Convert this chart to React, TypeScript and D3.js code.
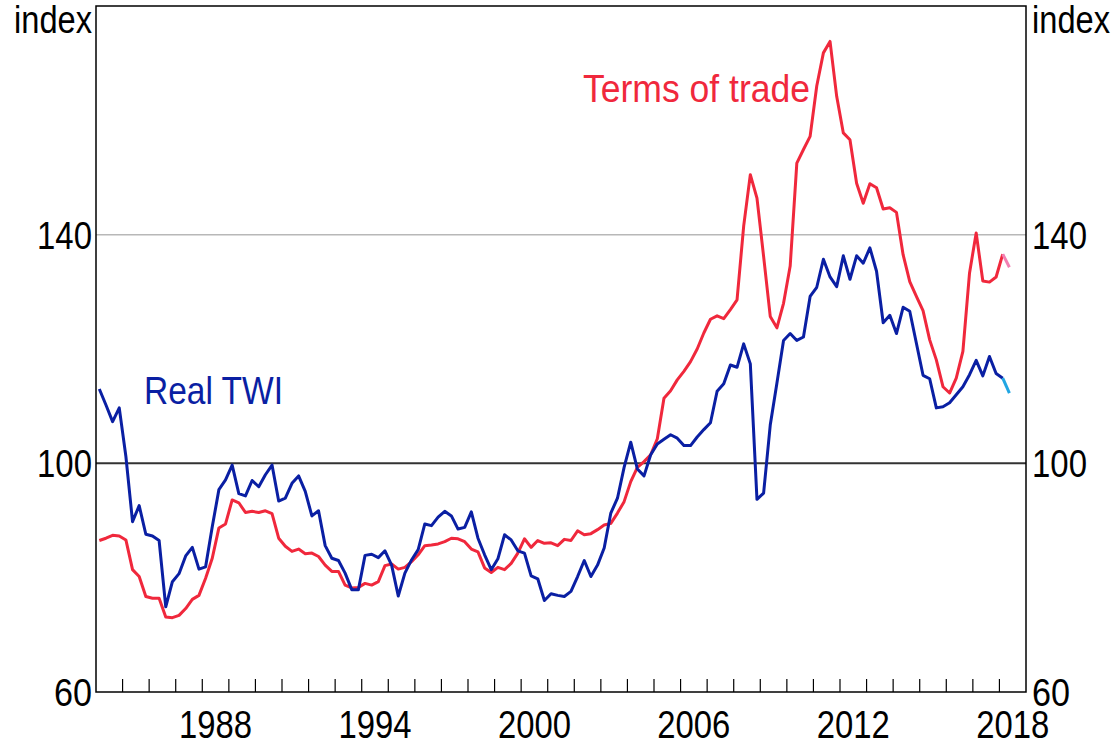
import React from "react";
import * as d3 from "d3";

const START_YEAR = 1984;
const END_YEAR = 2019;

const realTWI = [
  113.0, 110.2, 107.3, 109.7, 101.2, 89.8, 92.6, 87.6, 87.3, 86.5,
  74.9, 79.3, 80.7, 83.8, 85.3, 81.5, 81.9, 88.9, 95.4, 97.1,
  99.7, 94.7, 94.3, 97.0, 95.9, 98.0, 99.7, 93.4, 93.9, 96.5,
  97.8, 95.1, 90.8, 91.7, 85.6, 83.4, 83.0, 80.8, 77.9, 77.9,
  83.9, 84.1, 83.5, 84.7, 82.2, 76.8, 80.8, 83.1, 84.9, 89.4,
  89.1, 90.6, 91.6, 90.8, 88.5, 88.8, 91.5, 86.9, 84.0, 81.4,
  83.3, 87.5, 86.6, 84.7, 84.3, 80.3, 79.8, 76.0, 77.2, 76.9,
  76.7, 77.6, 80.2, 83.0, 80.2, 82.2, 85.2, 91.3, 93.9, 99.3,
  103.7, 99.0, 97.8, 101.5, 103.4, 104.2, 105.0, 104.4, 103.1, 103.1,
  104.6, 105.9, 107.1, 112.6, 113.9, 117.2, 116.8, 120.9, 117.4, 93.7,
  94.8, 106.7, 114.0, 121.5, 122.7, 121.5, 122.1, 129.2, 130.8, 135.7,
  132.6, 130.9, 136.3, 132.2, 136.3, 135.0, 137.7, 133.6, 124.6, 125.9,
  122.7, 127.3, 126.6, 121.0, 115.4, 114.8, 109.7, 109.9, 110.6, 112.0,
  113.4, 115.5, 118.0, 115.3, 118.7, 115.7, 114.9, 112.3,
];

const termsOfTrade = [
  86.5, 86.9, 87.4, 87.3, 86.6, 81.4, 80.2, 76.7, 76.4, 76.4,
  73.1, 73.0, 73.4, 74.6, 76.2, 76.9, 79.9, 83.4, 88.7, 89.4,
  93.6, 93.1, 91.4, 91.6, 91.4, 91.7, 91.2, 86.9, 85.5, 84.6,
  85.0, 84.2, 84.3, 83.7, 82.2, 81.1, 81.1, 78.7, 78.2, 78.3,
  79.0, 78.7, 79.3, 82.1, 82.4, 81.5, 81.8, 82.8, 84.0, 85.6,
  85.7, 85.9, 86.3, 86.9, 86.8, 86.3, 85.0, 84.5, 81.7, 80.9,
  81.8, 81.4, 82.5, 84.3, 86.8, 85.3, 86.5, 86.0, 86.1, 85.6,
  86.7, 86.5, 88.2, 87.5, 87.7, 88.4, 89.2, 89.5, 91.3, 93.3,
  96.8, 99.3, 100.3, 101.5, 104.3, 111.4, 112.7, 114.6, 116.1, 117.8,
  120.0, 122.8, 125.2, 125.8, 125.3, 126.9, 128.6, 141.5, 150.5, 146.4,
  136.2, 125.7, 123.7, 128.0, 134.5, 152.5, 154.9, 157.2, 166.0, 171.8,
  173.8, 164.2, 157.8, 156.6, 149.0, 145.5, 148.9, 148.2, 144.5, 144.7,
  143.9, 136.5, 131.8, 129.2, 126.7, 121.6, 118.1, 113.4, 112.3, 114.9,
  119.6, 133.3, 140.3, 131.9, 131.7, 132.6, 136.6, 134.3,
];

// quarterly observations starting 1984 Q1, plotted at mid-quarter
const quarters = realTWI.map((_, i) => START_YEAR + Math.floor(i / 4) + ((i % 4) + 0.5) / 4);

const yTicks = [60, 100, 140];
const yearLabels = [1988, 1994, 2000, 2006, 2012, 2018];
const yearTicks = d3.range(START_YEAR + 1, END_YEAR);

const W = 1116;
const H = 745;
const L = 96;
const R = 1026;
const T = 6;
const B = 692;
const FONT = "'Liberation Sans', Arial, sans-serif";

const RED = "#f0283c";
const BLUE = "#0a1fa3";
const RED_LAST = "#f27fb2";
const BLUE_LAST = "#21a6e3";

export default function App() {
  const x = d3.scaleLinear().domain([START_YEAR, END_YEAR]).range([L, R]);
  const y = d3.scaleLinear().domain([60, 180]).range([B, T]);
  const line = d3
    .line<number>()
    .x((_, i) => x(quarters[i]))
    .y((d) => y(d));
  const lineOffset = (offset: number) =>
    d3
      .line<number>()
      .x((_, i) => x(quarters[i + offset]))
      .y((d) => y(d));

  const n = realTWI.length;
  const mainTWI = line(realTWI.slice(0, n - 1)) || "";
  const lastTWI = lineOffset(n - 2)(realTWI.slice(n - 2)) || "";
  const mainToT = line(termsOfTrade.slice(0, n - 1)) || "";
  const lastToT = lineOffset(n - 2)(termsOfTrade.slice(n - 2)) || "";

  const labelStyle = { fontFamily: FONT, fontSize: 39, fill: "#000" } as const;

  return (
    <div style={{ position: "fixed", left: 0, top: 0, width: W, height: H, background: "#fff" }}>
      <svg width={W} height={H} style={{ display: "block" }}>
        <rect x={0} y={0} width={W} height={H} fill="#fff" />
        {/* gridlines */}
        <line x1={L} x2={R} y1={y(140)} y2={y(140)} stroke="#b8b8b8" strokeWidth={1.5} />
        <line x1={L} x2={R} y1={y(100)} y2={y(100)} stroke="#333" strokeWidth={2} />

        {/* year tick marks */}
        {yearTicks.map((yr) => (
          <line key={yr} x1={x(yr)} x2={x(yr)} y1={B} y2={B - 13} stroke="#000" strokeWidth={1.2} />
        ))}

        {/* series */}
        <path d={mainToT} fill="none" stroke={RED} strokeWidth={3} strokeLinejoin="round" />
        <path d={lastToT} fill="none" stroke={RED_LAST} strokeWidth={3} strokeLinejoin="round" />
        <path d={mainTWI} fill="none" stroke={BLUE} strokeWidth={3} strokeLinejoin="round" />
        <path d={lastTWI} fill="none" stroke={BLUE_LAST} strokeWidth={3} strokeLinejoin="round" />

        {/* frame */}
        <rect x={L} y={T} width={R - L} height={B - T} fill="none" stroke="#000" strokeWidth={1.5} />

        {/* y labels */}
        {yTicks.map((v) => {
          const w = v >= 100 ? 55 : 38;
          return (
            <g key={v}>
              <text
                x={92 - w}
                y={y(v)}
                dy="0.36em"
                textLength={w}
                lengthAdjust="spacingAndGlyphs"
                style={labelStyle}
              >
                {v}
              </text>
              <text
                x={1032}
                y={y(v)}
                dy="0.36em"
                textLength={w}
                lengthAdjust="spacingAndGlyphs"
                style={labelStyle}
              >
                {v}
              </text>
            </g>
          );
        })}
        <text x={14} y={33} textLength={78} lengthAdjust="spacingAndGlyphs" style={labelStyle}>
          index
        </text>
        <text x={1032} y={33} textLength={78} lengthAdjust="spacingAndGlyphs" style={labelStyle}>
          index
        </text>

        {/* x labels */}
        {yearLabels.map((yr) => (
          <text
            key={yr}
            x={x(yr + 0.5) - 36.5}
            y={738}
            textLength={73}
            lengthAdjust="spacingAndGlyphs"
            style={labelStyle}
          >
            {yr}
          </text>
        ))}

        {/* series labels */}
        <text
          x={583}
          y={102}
          textLength={227}
          lengthAdjust="spacingAndGlyphs"
          style={{ fontFamily: FONT, fontSize: 38, fill: RED }}
        >
          Terms of trade
        </text>
        <text
          x={144}
          y={404}
          textLength={139}
          lengthAdjust="spacingAndGlyphs"
          style={{ fontFamily: FONT, fontSize: 38, fill: BLUE }}
        >
          Real TWI
        </text>
      </svg>
    </div>
  );
}
